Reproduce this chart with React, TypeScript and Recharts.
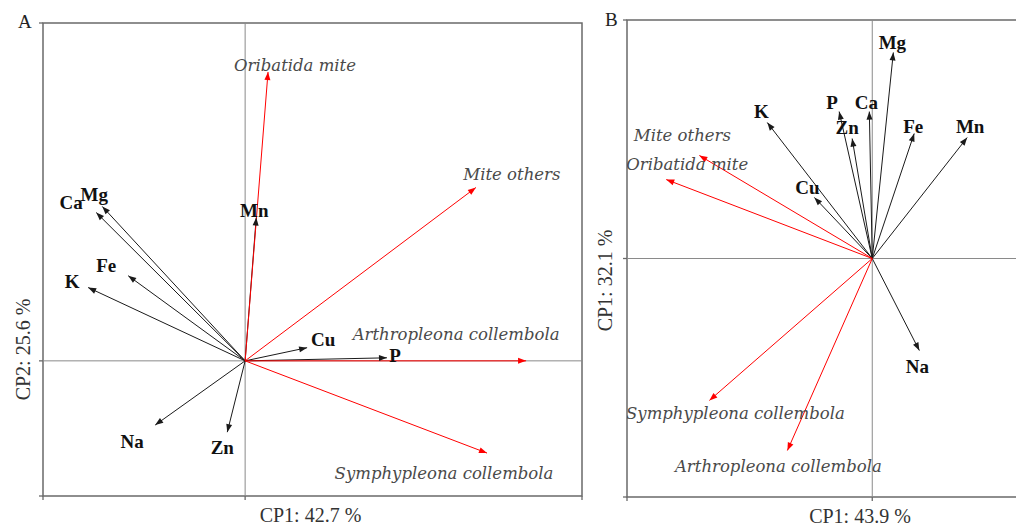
import React from "react";
import { LineChart, Line, XAxis, YAxis, ReferenceLine, ReferenceArea, Label } from "recharts";

// Panel A – loadings on CP1 / CP2
const elementsA = ["Mg", "Ca", "K", "Fe", "Mn", "Cu", "P", "Na", "Zn"];
const elementsAX = [-0.424, -0.442, -0.466, -0.347, 0.033, 0.184, 0.421, -0.267, -0.053];
const elementsAY = [0.457, 0.439, 0.217, 0.252, 0.424, 0.039, 0.009, -0.19, -0.211];

const taxaA = ["Oribatida mite", "Mite others", "Arthropleona collembola", "Symphypleona collembola"];
const taxaAX = [0.068, 0.685, 0.834, 0.718];
const taxaAY = [0.855, 0.513, 0.0, -0.273];

// Panel B
const elementsB = ["Mg", "P", "Ca", "Zn", "Fe", "Mn", "K", "Cu", "Na"];
const elementsBX = [0.086, -0.135, -0.012, -0.082, 0.171, 0.387, -0.428, -0.236, 0.192];
const elementsBY = [0.864, 0.616, 0.616, 0.503, 0.524, 0.507, 0.57, 0.256, -0.386];

const taxaB = ["Mite others", "Oribatida mite", "Symphypleona collembola", "Arthropleona collembola"];
const taxaBX = [-0.705, -0.84, -0.664, -0.346];
const taxaBY = [0.432, 0.331, -0.595, -0.805];

// label placement relative to the arrow tip (px)
const labelOffsetA: Record<string, [number, number]> = {
  Mg: [-8, -12], Ca: [-25, -10], K: [-16, -6], Fe: [-22, -10], Mn: [-2, -7],
  Cu: [16, -8], P: [8, -2], Na: [-23, 16], Zn: [-5, 15],
  "Oribatida mite": [27, -6], "Mite others": [36, -13],
  "Arthropleona collembola": [-70, -26], "Symphypleona collembola": [-43, 20],
};
const labelOffsetB: Record<string, [number, number]> = {
  Mg: [-1, -10], P: [-7, -9], Ca: [-3, -9], Zn: [-5, -11], Fe: [-1, -7],
  Mn: [3, -11], K: [-6, -11], Cu: [-7, -10], Na: [-2, 16],
  "Mite others": [-17, -20], "Oribatida mite": [21, -15],
  "Symphypleona collembola": [26, 13], "Arthropleona collembola": [-9, 16],
};

const ELEMENT_COLOR = "#1a1a1a";
const TAXA_COLOR = "#ff0000";
const FRAME = "#6a6a6a";
const SERIF = "'Liberation Serif', 'Times New Roman', serif";

type Vec = { name: string; taxon: boolean; data: { x: number; y: number }[] };

function buildVectors(names: string[], xs: number[], ys: number[], taxon: boolean): Vec[] {
  return names.map((name, i) => ({
    name,
    taxon,
    data: [
      { x: 0, y: 0 },
      { x: xs[i], y: ys[i] },
    ],
  }));
}

function arrowDot(v: Vec, offsets: Record<string, [number, number]>) {
  const color = v.taxon ? TAXA_COLOR : ELEMENT_COLOR;
  return (props: any) => {
    const { cx, cy, index, points } = props;
    if (index !== 1 || cx == null || cy == null) return <g key={`d-${v.name}-${index}`} />;
    const p0 = points && points[0] ? points[0] : { x: cx - 1, y: cy };
    const a = Math.atan2(cy - p0.y, cx - p0.x);
    const len = 8;
    const w = 3;
    const bx = cx - len * Math.cos(a);
    const by = cy - len * Math.sin(a);
    const px = -Math.sin(a) * w;
    const py = Math.cos(a) * w;
    const [dx, dy] = offsets[v.name] || [0, 0];
    return (
      <g key={`d-${v.name}-${index}`}>
        <path d={`M${cx},${cy}L${bx + px},${by + py}L${bx - px},${by - py}Z`} fill={color} stroke="none" />
        <text
          x={cx + dx}
          y={cy + dy}
          textAnchor="middle"
          dominantBaseline="central"
          fontFamily={v.taxon ? "'DejaVu Serif', serif" : SERIF}
          fontStyle={v.taxon ? "italic" : "normal"}
          fontWeight={v.taxon ? 400 : 700}
          fontSize={v.taxon ? 16.5 : 19}
          fill={v.taxon ? "#4a4a4a" : "#111"}
        >
          {v.name}
        </text>
      </g>
    );
  };
}

interface PanelProps {
  vectors: Vec[];
  offsets: Record<string, [number, number]>;
  xDomain: [number, number];
  yDomain: [number, number];
  width: number;
  margin: { top: number; right: number; bottom: number; left: number };
  xTitle: string;
  yTitle: string;
  xTitleShift: number;
  yTitleShift: number;
  yTitleOffset: number;
}

function BiplotPanel({ vectors, offsets, xDomain, yDomain, width, margin, xTitle, yTitle, xTitleShift, yTitleShift, yTitleOffset }: PanelProps) {
  return (
    <LineChart width={width} height={531} margin={margin}>
      <XAxis
        type="number"
        dataKey="x"
        domain={xDomain}
        ticks={[xDomain[0], 0, xDomain[1]]}
        allowDataOverflow
        height={30}
        axisLine={false}
        tickSize={4}
        tickLine={{ stroke: FRAME, strokeWidth: 1.3 }}
        tick={{ fontSize: 1, fill: "transparent" }}
        tickFormatter={() => ""}
      >
        <Label
          value={xTitle}
          position="insideTop"
          offset={12}
          dx={xTitleShift}
          style={{ fontFamily: SERIF, fontSize: 20, fill: "#333" }}
        />
      </XAxis>
      <YAxis
        type="number"
        domain={yDomain}
        ticks={[yDomain[0], 0, yDomain[1]]}
        allowDataOverflow
        width={30}
        axisLine={false}
        tickSize={4}
        tickLine={{ stroke: FRAME, strokeWidth: 1.3 }}
        tick={{ fontSize: 1, fill: "transparent" }}
        tickFormatter={() => ""}
      >
        <Label
          value={yTitle}
          angle={-90}
          position="insideLeft"
          offset={yTitleOffset}
          dy={yTitleShift}
          style={{ fontFamily: SERIF, fontSize: 20, fill: "#333", textAnchor: "middle" }}
        />
      </YAxis>
      <ReferenceArea
        x1={xDomain[0]}
        x2={xDomain[1]}
        y1={yDomain[0]}
        y2={yDomain[1]}
        fill="none"
        stroke={FRAME}
        strokeWidth={1.5}
        ifOverflow="visible"
      />
      <ReferenceLine x={0} stroke="#8a8a8a" strokeWidth={1} />
      <ReferenceLine y={0} stroke="#8a8a8a" strokeWidth={1} />
      {vectors.map((v) => (
        <Line
          key={v.name + (v.taxon ? "-t" : "-e")}
          data={v.data}
          dataKey="y"
          type="linear"
          stroke={v.taxon ? TAXA_COLOR : ELEMENT_COLOR}
          strokeWidth={1}
          dot={arrowDot(v, offsets)}
          activeDot={false}
          isAnimationActive={false}
        />
      ))}
    </LineChart>
  );
}

const letterStyle: React.CSSProperties = {
  position: "absolute",
  fontFamily: SERIF,
  fontSize: 19,
  color: "#222",
  lineHeight: "20px",
};

export default function App() {
  const vectorsA = [
    ...buildVectors(elementsA, elementsAX, elementsAY, false),
    ...buildVectors(taxaA, taxaAX, taxaAY, true),
  ];
  const vectorsB = [
    ...buildVectors(elementsB, elementsBX, elementsBY, false),
    ...buildVectors(taxaB, taxaBX, taxaBY, true),
  ];
  return (
    <div style={{ position: "fixed", left: 0, top: 0, width: 1016, height: 531, overflow: "hidden", background: "#fff" }}>
      <div style={{ position: "absolute", left: 0, top: 0 }}>
        <BiplotPanel
          vectors={vectorsA}
          offsets={labelOffsetA}
          xDomain={[-0.6, 1.0]}
          yDomain={[-0.4, 1.0]}
          width={600}
          margin={{ top: 23, right: 18, bottom: 5, left: 13 }}
          xTitle="CP1: 42.7 %"
          yTitle="CP2: 25.6 %"
          xTitleShift={-2}
          yTitleShift={90}
          yTitleOffset={10}
        />
      </div>
      <div style={{ position: "absolute", left: 590, top: 0 }}>
        <BiplotPanel
          vectors={vectorsB}
          offsets={labelOffsetB}
          xDomain={[-1.0, 0.9]}
          yDomain={[-1.0, 1.0]}
          width={520}
          margin={{ top: 20, right: 17, bottom: 4, left: 7 }}
          xTitle="CP1: 43.9 %"
          yTitle="CP1: 32.1 %"
          xTitleShift={0}
          yTitleShift={22}
          yTitleOffset={8}
        />
      </div>
      <div style={{ ...letterStyle, left: 18, top: 12 }}>A</div>
      <div style={{ ...letterStyle, left: 605, top: 10 }}>B</div>
    </div>
  );
}
